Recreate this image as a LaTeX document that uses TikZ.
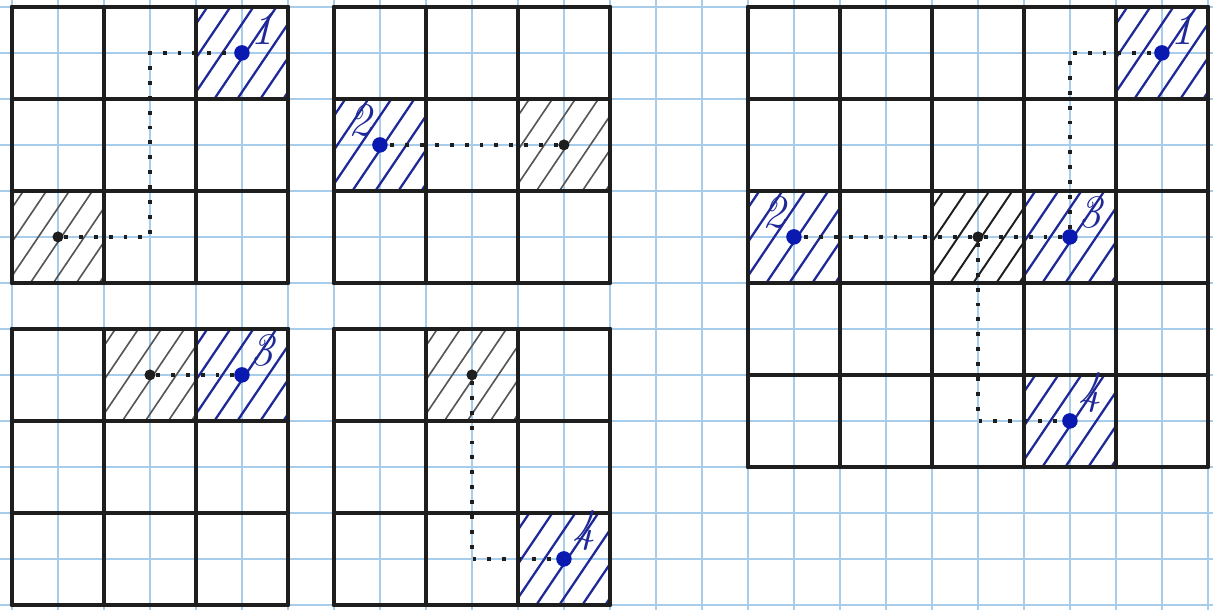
\documentclass[tikz,border=0pt]{standalone}
\usepackage{tikz}
\usetikzlibrary{positioning}
\definecolor{paperBlue}{RGB}{168,205,235}
\definecolor{inkBlue}{RGB}{30,40,150}
\definecolor{dotBlue}{RGB}{10,25,175}
\definecolor{pencil}{RGB}{85,85,85}
\definecolor{inkBlack}{RGB}{30,30,30}

\begin{document}
\begin{tikzpicture}[x=0.5cm, y=-0.5cm,
    cellline/.style={inkBlack, line width=1.3pt, line cap=round},
    paperline/.style={paperBlue, line width=0.45pt},
    bluedot/.style={circle, fill=dotBlue, inner sep=0pt, minimum size=4.8pt},
    blackdot/.style={circle, fill=inkBlack, inner sep=0pt, minimum size=3.4pt},
    route/.style={inkBlack, line width=1pt, dash pattern=on 1.2pt off 3.4pt},
    num/.style={inkBlue, font=\Large\itshape, inner sep=0.5pt}]
        \useasboundingbox (-0.26,-0.15) rectangle (26.11,13.11);
        \fill[white] (-0.26,-0.15) rectangle (26.11,13.11);
        \draw[paperline, step=0.5cm] (-0.26,-0.15) grid (26.11,13.11);
        \foreach \cx/\cy/\col/\w in {4/0/inkBlue/0.7, 0/4/pencil/0.5, 7/2/inkBlue/0.7, 11/2/pencil/0.5,
            2/7/pencil/0.5, 4/7/inkBlue/0.7, 9/7/pencil/0.5, 11/11/inkBlue/0.7,
            24/0/inkBlue/0.7, 16/4/inkBlue/0.7, 20/4/inkBlack/0.6, 22/4/inkBlue/0.7, 22/8/inkBlue/0.7}{
          \begin{scope}
            \clip (\cx,\cy) rectangle ++(2,2);
            \foreach \k in {-1.1,-0.6,...,2.0}
              \draw[\col, line width=\w pt] (\cx+\k,\cy+2) -- ++(1.35,-2);
          \end{scope}
        }
        \foreach \px/\py/\n in {0/0/3, 7/0/3, 0/7/3, 7/7/3, 16/0/5}{
          \foreach \i in {0,...,\n}{
            \draw[cellline] (\px+2*\i,\py) -- (\px+2*\i,\py+2*\n);
            \draw[cellline] (\px,\py+2*\i) -- (\px+2*\n,\py+2*\i);
          }
        }
        \node[blackdot] (aStart) at (1,5) {};
        \node[bluedot, label={[num]45:1}] (aGoal) at (5,1) {};
        \coordinate (aBend) at (3,1);
        \draw[route] (aStart) -| (aBend) -- (aGoal);
        \node[blackdot] (bStart) at (12,3) {};
        \node[bluedot, label={[num]135:2}] (bGoal) at (8,3) {};
        \draw[route] (bStart) -- (bGoal);
        \node[blackdot] (cStart) at (3,8) {};
        \node[bluedot, label={[num]45:3}] (cGoal) at (5,8) {};
        \draw[route] (cStart) -- (cGoal);
        \node[blackdot] (dStart) at (10,8) {};
        \node[bluedot, label={[num]45:4}] (dGoal) at (12,12) {};
        \draw[route] (dStart) |- (dGoal);
        \node[blackdot] (eStart) at (21,5) {};
        \node[bluedot, label={[num]45:1}] (eOne) at (25,1) {};
        \node[bluedot, label={[num]135:2}] (eTwo) at (17,5) {};
        \node[bluedot, label={[num]45:3}] (eThree) at (23,5) {};
        \node[bluedot, label={[num]45:4}] (eFour) at (23,9) {};
        \draw[route] (eStart) -- (eTwo);
        \draw[route] (eStart) -- (eThree);
        \draw[route] (eThree) |- (eOne);
        \draw[route] (eStart) |- (eFour);
      \end{tikzpicture}
\end{document}
